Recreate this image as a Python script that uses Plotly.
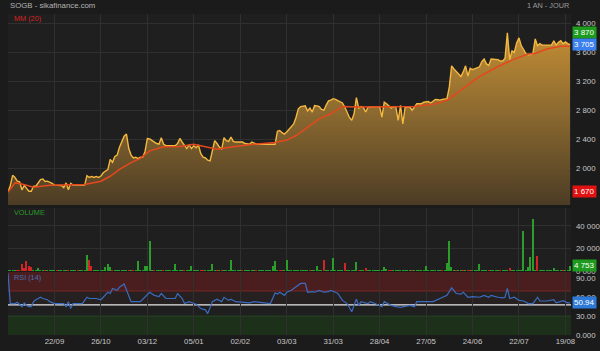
import plotly.graph_objects as go

# ---------------- data ----------------
price = [
    1670, 1760, 1900, 1870, 1820, 1810, 1700, 1760, 1720, 1680,
    1680, 1750, 1750, 1800, 1840, 1850, 1815, 1820, 1810, 1790,
    1765, 1765, 1765, 1760, 1730, 1795, 1700, 1790, 1765, 1765,
    1765, 1765, 1765, 1765, 1895, 1870, 1885, 1870, 1885, 1870,
    1890, 1935, 1960, 1980, 2120, 2080, 2160, 2180, 2290, 2380,
    2440, 2470, 2270, 2180, 2140, 2150, 2130, 2150, 2150, 2230,
    2410, 2405, 2380, 2360, 2340, 2330, 2420, 2330, 2310, 2310,
    2310, 2310, 2310, 2340, 2410, 2360, 2310, 2270, 2320, 2270,
    2310, 2280, 2320, 2200, 2150, 2140, 2110, 2100, 2240, 2380,
    2340, 2290, 2260, 2420, 2380, 2370, 2430, 2370, 2360, 2360,
    2360, 2360, 2340, 2330, 2330, 2360, 2340, 2330, 2330, 2330,
    2330, 2330, 2330, 2330, 2330, 2330, 2510, 2520, 2490, 2470,
    2500, 2540, 2570, 2610, 2700, 2820, 2850, 2855, 2860, 2790,
    2830, 2775, 2865, 2860, 2850, 2810, 2800, 2870, 2930, 2940,
    2960, 2950, 2935, 2920, 2900, 2845, 2760, 2700, 2660, 2750,
    2975, 2830, 2850, 2840, 2775, 2840, 2845, 2845, 2845, 2845,
    2850, 2705, 2910, 2890, 2860, 2830, 2850, 2840, 2658, 2867,
    2611, 2845, 2845, 2845, 2800, 2850, 2890, 2890, 2890, 2910,
    2920, 2920, 2900, 2920, 2950, 2945, 2940, 2950, 2955, 2960,
    3120, 3413, 3370, 3330, 3290, 3265, 3330, 3413, 3273, 3380,
    3360, 3374, 3385, 3400, 3470, 3507, 3440, 3420, 3507, 3507,
    3507, 3500, 3480, 3480, 3520, 3870, 3500, 3620, 3600, 3730,
    3800, 3690, 3637, 3580, 3567, 3570, 3585, 3786, 3690, 3720,
    3700, 3700, 3700, 3700, 3700, 3760, 3700, 3740, 3760, 3720,
    3745, 3720, 3705,
]
day = list(range(len(price)))

ma_idx = [0, 3, 6, 11, 18, 25, 33, 40, 44, 48, 53, 57, 61, 67, 74, 80, 86, 90, 97, 106,
          115, 120, 124, 129, 134, 139, 144, 150, 160, 175, 183, 189, 196, 203, 211, 218,
          224, 227, 232, 238, 242]
ma_val = [1668, 1795, 1780, 1734, 1762, 1762, 1772, 1818, 1887, 1981, 2075, 2135, 2238, 2294,
          2300, 2331, 2294, 2261, 2294, 2331, 2354, 2387, 2450, 2564, 2681, 2751, 2853, 2844,
          2844, 2853, 2881, 2937, 3101, 3264, 3404, 3507, 3577, 3585, 3646, 3683, 3683]

volume = [
    800, 1200, 1500, 600, 900, 1500, 6000, 2500, 9100, 5000,
    3600, 500, 800, 2500, 400, 600, 300, 700, 500, 400,
    600, 300, 500, 400, 700, 500, 900, 600, 400, 300,
    500, 400, 300, 600, 14000, 9700, 5000, 1500, 400, 300,
    500, 700, 4000, 6000, 4000, 600, 300, 500, 800, 400,
    600, 900, 500, 400, 300, 700, 8800, 1500, 1500, 5000,
    5000, 26400, 800, 1000, 500, 400, 700, 300, 500, 600,
    400, 500, 6700, 600, 300, 500, 1500, 400, 600, 5000,
    500, 400, 600, 1200, 900, 400, 500, 700, 6000, 1200,
    800, 1500, 900, 600, 400, 500, 10300, 1500, 400, 300,
    500, 1000, 400, 700, 900, 500, 400, 1000, 600, 500,
    700, 400, 900, 600, 5000, 9000, 1000, 1200, 600, 500,
    9700, 700, 400, 500, 300, 600, 1500, 1500, 1200, 500,
    400, 300, 500, 4500, 1500, 400, 9700, 500, 300, 600,
    12100, 1500, 1000, 400, 600, 7300, 500, 300, 400, 600,
    8200, 1500, 400, 500, 2700, 600, 400, 300, 500, 800,
    400, 1000, 3600, 2000, 1500, 1000, 400, 300, 500, 600,
    400, 300, 500, 1000, 600, 900, 500, 400, 700, 600,
    4500, 500, 400, 300, 600, 500, 400, 1000, 600, 7300,
    26400, 3600, 500, 1200, 400, 600, 1200, 400, 1000, 900,
    500, 400, 600, 6000, 600, 400, 500, 1000, 400, 300,
    500, 400, 900, 300, 500, 600, 2700, 400, 500, 300,
    600, 400, 35500, 500, 3600, 12700, 46700, 600, 13300, 400,
    500, 300, 600, 400, 500, 2700, 600, 400, 500, 1000,
    400, 600, 4753,
]
down_days = [4, 5, 6, 7, 8, 9, 10, 16, 21, 26, 30, 35, 36, 45, 52, 54, 63, 67, 76, 83, 84,
             90, 92, 101, 107, 117, 118, 130, 136, 145, 151, 154, 164, 165, 174, 187, 193,
             196, 198, 199, 207, 212, 216, 228, 239]

rsi_idx = [0, 1, 3, 4, 6, 7, 8, 9, 10, 11, 12, 14, 15, 17, 18, 20, 24, 25, 26, 27, 28, 32,
           34, 35, 38, 40, 41, 43, 44, 45, 47, 48, 50, 52, 53, 57, 59, 61, 63, 65, 66, 68,
           72, 73, 75, 76, 78, 81, 83, 85, 86, 88, 90, 92, 93, 95, 96, 98, 104, 106, 113,
           115, 116, 117, 119, 120, 122, 124, 126, 128, 129, 131, 132, 134, 136, 138, 139,
           141, 142, 144, 146, 148, 150, 151, 152, 155, 156, 158, 161, 162, 165, 167, 169,
           173, 175, 176, 180, 183, 186, 189, 191, 193, 195, 196, 198, 200, 203, 205, 207,
           208, 211, 213, 214, 215, 216, 218, 220, 222, 224, 226, 228, 229, 232, 235, 236,
           239, 241, 242]
rsi_val = [98, 50, 50, 52, 45, 51, 47, 45, 45, 53, 56, 60, 58, 56, 53, 50, 50, 45, 53, 42,
           50, 50, 60, 58, 58, 56, 60, 68, 66, 74, 71, 76, 81, 60, 53, 53, 60, 68, 63, 61,
           66, 58, 58, 66, 58, 50, 53, 49, 42, 40, 34, 53, 57, 53, 60, 55, 57, 53, 51, 53,
           50, 67, 65, 68, 63, 68, 71, 77, 82, 82, 68, 69, 68, 71, 68, 69, 71, 68, 66, 55,
           50, 37, 57, 47, 53, 50, 53, 50, 45, 53, 47, 45, 44, 47, 45, 53, 53, 53, 58, 63,
           75, 66, 65, 68, 60, 61, 60, 63, 60, 63, 60, 59, 60, 74, 58, 60, 55, 54, 50, 50,
           60, 54, 54, 56, 51, 54.5, 51, 50.94]

date_idx = [20, 40, 60, 80, 100, 120, 140, 160, 180, 200, 220, 240]
date_labels = ["22/09", "26/10", "03/12", "05/01", "02/02", "03/03", "31/03", "28/04",
               "27/05", "24/06", "22/07", "19/08"]

price_ticks = [2000, 2400, 2800, 3200, 3600, 4000]
price_tick_text = ["2 000", "2 400", "2 800", "3 200", "3 600", "4 000"]
vol_ticks = [0, 20000, 40000]
vol_tick_text = ["0 000", "20 000", "40 000"]
rsi_ticks = [0, 30, 60, 90]
rsi_tick_text = ["0.000", "30.00", "60.00", "90.00"]

price_min, price_max, price_last = 1670, 3870, 3705
vol_last = 4753
rsi_last = 50.94

# ---------------- style ----------------
FONT = "Liberation Sans, Arial, sans-serif"
GRID = "#303030"
TICKC = "#c8c8c8"
GREEN = "#2a9d2a"
RED = "#cf2626"
TICK_SIZE = 7.8

vol_colors = [RED if i in down_days else GREEN for i in day]

fig = go.Figure()

fig.add_trace(go.Scatter(
    x=day, y=price, mode="lines", xaxis="x", yaxis="y",
    line=dict(color="#f4b83f", width=1.4),
    fill="tozeroy",
    fillgradient=dict(type="vertical", start=1490, stop=3900,
                      colorscale=[[0, "#4c3c25"], [0.5, "#88672f"], [1, "#c48e35"]]),
    hoverinfo="skip",
))
fig.add_trace(go.Scatter(
    x=ma_idx, y=ma_val, mode="lines", xaxis="x", yaxis="y",
    line=dict(color="#e5481d", width=1.5), hoverinfo="skip",
))
fig.add_trace(go.Bar(
    x=day, y=volume, xaxis="x2", yaxis="y2", width=0.55,
    marker=dict(color=vol_colors, line=dict(width=0)), hoverinfo="skip",
))
fig.add_trace(go.Scatter(
    x=rsi_idx, y=rsi_val, mode="lines", xaxis="x3", yaxis="y3",
    line=dict(color="#3a6cc0", width=1.2), hoverinfo="skip",
))

xcommon = dict(range=[0, 242.4], tickvals=date_idx, showgrid=True, gridcolor=GRID,
               gridwidth=1, zeroline=False, showline=False, ticks="", automargin=False)
ycommon = dict(side="right", showline=False, zeroline=False, ticks="", automargin=False,
               ticklabelstandoff=4,
               tickfont=dict(family=FONT, size=TICK_SIZE, color=TICKC))

D_PRICE = [0.405, 1.0]
D_VOL = [0.199, 0.396]
D_RSI = [0.0, 0.196]

fig.update_layout(
    width=600, height=351,
    margin=dict(l=8, r=29, t=14, b=16, autoexpand=False),
    paper_bgcolor="#1b1b1b",
    plot_bgcolor="#1f1f1f",
    showlegend=False,
    hovermode=False,
    bargap=0,
    font=dict(family=FONT, color=TICKC),
    xaxis=dict(anchor="y", showticklabels=False, **xcommon),
    xaxis2=dict(anchor="y2", matches="x", showticklabels=False, **xcommon),
    xaxis3=dict(anchor="y3", matches="x", showticklabels=True, ticktext=date_labels,
                tickfont=dict(family=FONT, size=TICK_SIZE, color=TICKC), **xcommon),
    yaxis=dict(domain=D_PRICE, range=[1490, 4130], tickvals=price_ticks,
               ticktext=price_tick_text, showgrid=True, gridcolor=GRID, **ycommon),
    yaxis2=dict(domain=D_VOL, range=[0, 56000], tickvals=vol_ticks,
                ticktext=vol_tick_text, showgrid=True, gridcolor=GRID, **ycommon),
    yaxis3=dict(domain=D_RSI, range=[0, 100], tickvals=rsi_ticks,
                ticktext=rsi_tick_text, showgrid=False, **ycommon),
)

# RSI bands
shapes = [
    dict(type="rect", xref="x3 domain", yref="y3", x0=0, x1=1, y0=70, y1=100,
         fillcolor="#4a1e1e", line_width=0, layer="below"),
    dict(type="rect", xref="x3 domain", yref="y3", x0=0, x1=1, y0=48, y1=70,
         fillcolor="#272020", line_width=0, layer="below"),
    dict(type="rect", xref="x3 domain", yref="y3", x0=0, x1=1, y0=0, y1=30,
         fillcolor="#1d3019", line_width=0, layer="below"),
    dict(type="line", xref="x3 domain", yref="y3", x0=0, x1=1, y0=70, y1=70,
         line=dict(color="#7c2626", width=1), layer="below"),
    dict(type="line", xref="x3 domain", yref="y3", x0=0, x1=1, y0=30, y1=30,
         line=dict(color="#284424", width=1), layer="below"),
    dict(type="line", xref="x3 domain", yref="y3", x0=0, x1=1, y0=48, y1=48,
         line=dict(color="#e8e8e8", width=1.2), layer="below"),
]
fig.update_layout(shapes=shapes)

ann = [
    dict(text="SOGB - sikafinance.com", xref="paper", yref="paper", x=0, y=1.025,
         xanchor="left", yanchor="middle", showarrow=False,
         font=dict(family=FONT, size=7.8, color="#b4b4b4")),
    dict(text="1 AN - JOUR", xref="paper", yref="paper", x=1, y=1.025,
         xanchor="right", yanchor="middle", showarrow=False,
         font=dict(family=FONT, size=7.3, color="#9a9a9a")),
    dict(text="MM (20)", xref="paper", yref="paper", x=0.007, y=0.9875,
         xanchor="left", yanchor="middle", showarrow=False,
         font=dict(family=FONT, size=7.3, color="#d42222")),
    dict(text="VOLUME", xref="paper", yref="paper", x=0.007, y=0.383,
         xanchor="left", yanchor="middle", showarrow=False,
         font=dict(family=FONT, size=7.3, color="#2b9a2b")),
    dict(text="RSI (14)", xref="paper", yref="paper", x=0.007, y=0.179,
         xanchor="left", yanchor="middle", showarrow=False,
         font=dict(family=FONT, size=7.3, color="#4470b8")),
]
badges = [
    (f"{price_max:,}".replace(",", " "), "y", price_max, "#1e9b1e"),
    (f"{price_last:,}".replace(",", " "), "y", price_last, "#3b80ee"),
    (f"{price_min:,}".replace(",", " "), "y", price_min, "#e01212"),
    (f"{vol_last:,}".replace(",", " "), "y2", vol_last, "#1e9b1e"),
    (f"{rsi_last:.2f}", "y3", rsi_last, "#2f7ad8"),
]
for txt, yr, val, col in badges:
    ann.append(dict(text=txt, xref="paper", yref=yr, x=1, y=val, xanchor="left",
                    yanchor="middle", showarrow=False, bgcolor=col, borderpad=1,
                    xshift=1,
                    font=dict(family=FONT, size=8, color="#ffffff")))
fig.update_layout(annotations=ann)

fig.write_html("out.html")
